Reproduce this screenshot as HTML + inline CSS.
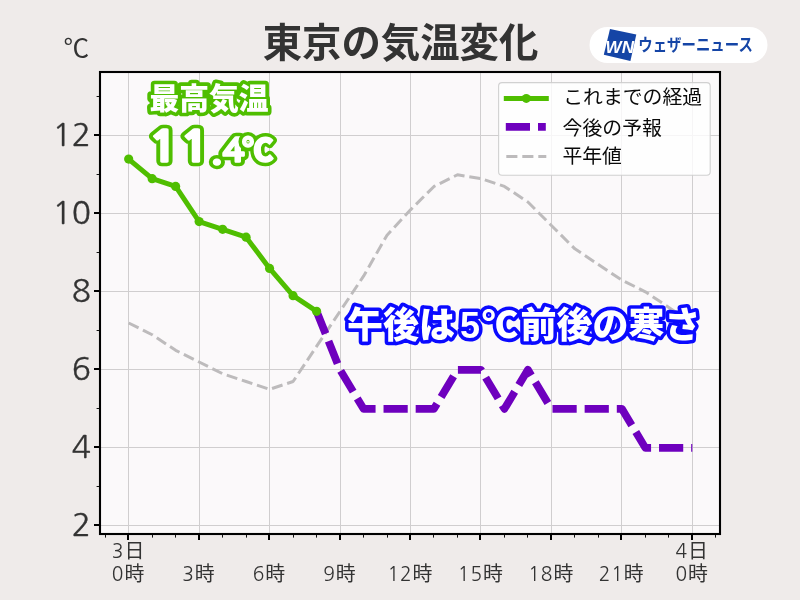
<!DOCTYPE html>
<html lang="ja">
<head>
<meta charset="utf-8">
<title>東京の気温変化</title>
<style>
html,body{margin:0;padding:0;background:#efebea;}
body{width:800px;height:600px;overflow:hidden;font-family:'Liberation Sans','Noto Sans CJK JP',sans-serif;}
svg{display:block;font-family:'Liberation Sans','Noto Sans CJK JP',sans-serif;}
.tick{fill:#333333;font-size:19.9px;}
.ytick{fill:#333333;font-size:30px;font-family:NanumGothic,'Liberation Sans',sans-serif;}
.d{font-family:NanumGothic,'Liberation Sans',sans-serif;font-size:19.2px;letter-spacing:0.9px;}
.leg{fill:#0a0a0a;font-size:19.85px;}
.ol{paint-order:stroke fill;stroke-linejoin:round;stroke-linecap:round;font-weight:900;fill:#fff;}
</style>
</head>
<body>
<svg width="800" height="600" viewBox="0 0 800 600">
<rect x="0" y="0" width="800" height="600" fill="#efebea"/>
<rect x="100.0" y="72.0" width="620.0" height="462.0" fill="#fbf9fa"/>

<g stroke="#d0cecf" stroke-width="1" fill="none" shape-rendering="crispEdges">
<line x1="128.5" y1="72.0" x2="128.5" y2="534.0"/>
<line x1="199.5" y1="72.0" x2="199.5" y2="534.0"/>
<line x1="269.5" y1="72.0" x2="269.5" y2="534.0"/>
<line x1="340.5" y1="72.0" x2="340.5" y2="534.0"/>
<line x1="410.5" y1="72.0" x2="410.5" y2="534.0"/>
<line x1="480.5" y1="72.0" x2="480.5" y2="534.0"/>
<line x1="551.5" y1="72.0" x2="551.5" y2="534.0"/>
<line x1="621.5" y1="72.0" x2="621.5" y2="534.0"/>
<line x1="692.5" y1="72.0" x2="692.5" y2="534.0"/>
<line x1="100.0" y1="525.5" x2="720.0" y2="525.5"/>
<line x1="100.0" y1="447.5" x2="720.0" y2="447.5"/>
<line x1="100.0" y1="369.5" x2="720.0" y2="369.5"/>
<line x1="100.0" y1="291.5" x2="720.0" y2="291.5"/>
<line x1="100.0" y1="213.5" x2="720.0" y2="213.5"/>
<line x1="100.0" y1="135.5" x2="720.0" y2="135.5"/>
</g>
<polyline points="128.68,323.01 152.17,334.72 175.65,350.32 199.13,362.03 222.62,373.74 246.11,381.54 269.59,389.34 293.07,381.54 316.56,346.42 340.05,311.30 363.53,276.19 387.01,235.21 410.50,209.85 433.99,186.44 457.47,174.73 480.95,178.64 504.44,186.44 527.92,202.05 551.41,225.46 574.89,248.87 598.38,264.48 621.87,280.09 645.35,291.79 668.84,307.40 692.32,323.01" fill="none" stroke="#bdbbbc" stroke-width="3" stroke-dasharray="11.05 4.85" stroke-linejoin="round"/>
<polyline points="316.56,311.30 340.05,369.83 363.53,408.85 387.01,408.85 410.50,408.85 433.99,408.85 457.47,369.83 480.95,369.83 504.44,408.85 527.92,369.83 551.41,408.85 574.89,408.85 598.38,408.85 621.87,408.85 645.35,447.88 668.84,447.88 692.32,447.88" fill="none" stroke="#6e00be" stroke-width="7.7" stroke-dasharray="24.2 7.95" stroke-linejoin="round"/>
<polyline points="128.68,159.12 152.17,178.64 175.65,186.44 199.13,221.56 222.62,229.36 246.11,237.17 269.59,268.38 293.07,295.70 316.56,311.30" fill="none" stroke="#4fbe00" stroke-width="5" stroke-linejoin="round" stroke-linecap="square"/>
<g fill="#4fbe00">
<circle cx="128.68" cy="159.12" r="4.6"/>
<circle cx="152.17" cy="178.64" r="4.6"/>
<circle cx="175.65" cy="186.44" r="4.6"/>
<circle cx="199.13" cy="221.56" r="4.6"/>
<circle cx="222.62" cy="229.36" r="4.6"/>
<circle cx="246.11" cy="237.17" r="4.6"/>
<circle cx="269.59" cy="268.38" r="4.6"/>
<circle cx="293.07" cy="295.70" r="4.6"/>
<circle cx="316.56" cy="311.30" r="4.6"/>
</g>
<rect x="100.0" y="72.0" width="620.0" height="462.0" fill="none" stroke="#000" stroke-width="2.1"/>
<g stroke="#000" fill="none" shape-rendering="crispEdges">
<line x1="105.5" y1="535.0" x2="105.5" y2="537.6" stroke-width="1" stroke="#111" shape-rendering="auto"/>
<line x1="128" y1="535.0" x2="128" y2="540.0" stroke-width="2"/>
<line x1="152.5" y1="535.0" x2="152.5" y2="537.6" stroke-width="1" stroke="#111" shape-rendering="auto"/>
<line x1="175.5" y1="535.0" x2="175.5" y2="537.6" stroke-width="1" stroke="#111" shape-rendering="auto"/>
<line x1="199" y1="535.0" x2="199" y2="540.0" stroke-width="2"/>
<line x1="222.5" y1="535.0" x2="222.5" y2="537.6" stroke-width="1" stroke="#111" shape-rendering="auto"/>
<line x1="246.5" y1="535.0" x2="246.5" y2="537.6" stroke-width="1" stroke="#111" shape-rendering="auto"/>
<line x1="269" y1="535.0" x2="269" y2="540.0" stroke-width="2"/>
<line x1="293.5" y1="535.0" x2="293.5" y2="537.6" stroke-width="1" stroke="#111" shape-rendering="auto"/>
<line x1="316.5" y1="535.0" x2="316.5" y2="537.6" stroke-width="1" stroke="#111" shape-rendering="auto"/>
<line x1="340" y1="535.0" x2="340" y2="540.0" stroke-width="2"/>
<line x1="363.5" y1="535.0" x2="363.5" y2="537.6" stroke-width="1" stroke="#111" shape-rendering="auto"/>
<line x1="387.5" y1="535.0" x2="387.5" y2="537.6" stroke-width="1" stroke="#111" shape-rendering="auto"/>
<line x1="410" y1="535.0" x2="410" y2="540.0" stroke-width="2"/>
<line x1="433.5" y1="535.0" x2="433.5" y2="537.6" stroke-width="1" stroke="#111" shape-rendering="auto"/>
<line x1="457.5" y1="535.0" x2="457.5" y2="537.6" stroke-width="1" stroke="#111" shape-rendering="auto"/>
<line x1="480" y1="535.0" x2="480" y2="540.0" stroke-width="2"/>
<line x1="504.5" y1="535.0" x2="504.5" y2="537.6" stroke-width="1" stroke="#111" shape-rendering="auto"/>
<line x1="527.5" y1="535.0" x2="527.5" y2="537.6" stroke-width="1" stroke="#111" shape-rendering="auto"/>
<line x1="551" y1="535.0" x2="551" y2="540.0" stroke-width="2"/>
<line x1="574.5" y1="535.0" x2="574.5" y2="537.6" stroke-width="1" stroke="#111" shape-rendering="auto"/>
<line x1="598.5" y1="535.0" x2="598.5" y2="537.6" stroke-width="1" stroke="#111" shape-rendering="auto"/>
<line x1="621" y1="535.0" x2="621" y2="540.0" stroke-width="2"/>
<line x1="645.5" y1="535.0" x2="645.5" y2="537.6" stroke-width="1" stroke="#111" shape-rendering="auto"/>
<line x1="668.5" y1="535.0" x2="668.5" y2="537.6" stroke-width="1" stroke="#111" shape-rendering="auto"/>
<line x1="692" y1="535.0" x2="692" y2="540.0" stroke-width="2"/>
<line x1="715.5" y1="535.0" x2="715.5" y2="537.6" stroke-width="1" stroke="#111" shape-rendering="auto"/>
<line x1="94.0" y1="525" x2="99.0" y2="525" stroke-width="2"/>
<line x1="96.6" y1="486.5" x2="99.0" y2="486.5" stroke-width="1" stroke="#111" shape-rendering="auto"/>
<line x1="94.0" y1="447" x2="99.0" y2="447" stroke-width="2"/>
<line x1="96.6" y1="408.5" x2="99.0" y2="408.5" stroke-width="1" stroke="#111" shape-rendering="auto"/>
<line x1="94.0" y1="369" x2="99.0" y2="369" stroke-width="2"/>
<line x1="96.6" y1="330.5" x2="99.0" y2="330.5" stroke-width="1" stroke="#111" shape-rendering="auto"/>
<line x1="94.0" y1="291" x2="99.0" y2="291" stroke-width="2"/>
<line x1="96.6" y1="252.5" x2="99.0" y2="252.5" stroke-width="1" stroke="#111" shape-rendering="auto"/>
<line x1="94.0" y1="213" x2="99.0" y2="213" stroke-width="2"/>
<line x1="96.6" y1="174.5" x2="99.0" y2="174.5" stroke-width="1" stroke="#111" shape-rendering="auto"/>
<line x1="94.0" y1="135" x2="99.0" y2="135" stroke-width="2"/>
<line x1="96.6" y1="96.5" x2="99.0" y2="96.5" stroke-width="1" stroke="#111" shape-rendering="auto"/>
</g>
<g class="tick" text-anchor="middle">
<text x="128.08" y="558.4"><tspan class="d">3</tspan>日</text>
<text x="691.72" y="558.4"><tspan class="d">4</tspan>日</text>
<text x="128.08" y="581.3"><tspan class="d">0</tspan>時</text>
<text x="198.53" y="581.3"><tspan class="d">3</tspan>時</text>
<text x="268.99" y="581.3"><tspan class="d">6</tspan>時</text>
<text x="339.44" y="581.3"><tspan class="d">9</tspan>時</text>
<text x="409.90" y="581.3"><tspan class="d">12</tspan>時</text>
<text x="480.35" y="581.3"><tspan class="d">15</tspan>時</text>
<text x="550.81" y="581.3"><tspan class="d">18</tspan>時</text>
<text x="621.26" y="581.3"><tspan class="d">21</tspan>時</text>
<text x="691.72" y="581.3"><tspan class="d">0</tspan>時</text>
</g>
<g class="ytick" text-anchor="end" stroke="#333333" stroke-width="0.35">
<text x="91" y="536.42" textLength="19.2" lengthAdjust="spacingAndGlyphs">2</text>
<text x="91" y="458.38" textLength="19.2" lengthAdjust="spacingAndGlyphs">4</text>
<text x="91" y="380.33" textLength="19.2" lengthAdjust="spacingAndGlyphs">6</text>
<text x="91" y="302.29" textLength="19.2" lengthAdjust="spacingAndGlyphs">8</text>
<text x="91" y="224.25" textLength="38.4" lengthAdjust="spacingAndGlyphs">10</text>
<text x="91" y="146.21" textLength="38.4" lengthAdjust="spacingAndGlyphs">12</text>
</g>
<text x="63.4" y="57.2" font-size="24.5px" fill="#333333" font-weight="400" textLength="25.6" lengthAdjust="spacingAndGlyphs">℃</text>
<text x="400.5" y="57" font-size="39.4px" font-weight="700" fill="#333" text-anchor="middle">東京の気温変化</text>
<rect x="589.5" y="27" width="178" height="36" rx="18" ry="18" fill="#fff"/>
<polygon points="610,28.9 636.3,34.5 630.4,61 603.8,54.8" fill="#1545a6"/>
<text x="605.6" y="52.7" font-size="16.6px" font-weight="700" font-style="italic" fill="#fff" textLength="28.4" lengthAdjust="spacingAndGlyphs">WN</text>
<text x="638.3" y="51.2" font-size="17px" font-weight="700" fill="#1545a6" textLength="114.5" lengthAdjust="spacingAndGlyphs">ウェザーニュース</text>
<rect x="498.6" y="82.6" width="211.6" height="92.6" rx="3.5" ry="3.5" fill="#fff" fill-opacity="0.8" stroke="#cccccc" stroke-opacity="0.9" stroke-width="1.1"/>
<line x1="506.3" y1="98.4" x2="546.3" y2="98.4" stroke="#4fbe00" stroke-width="5" stroke-linecap="square"/>
<circle cx="526.3" cy="98.4" r="4.5" fill="#4fbe00"/>
<line x1="505.8" y1="126.9" x2="545.8" y2="126.9" stroke="#6e00be" stroke-width="7.8" stroke-dasharray="24.2 8"/>
<line x1="506.3" y1="156.5" x2="546.3" y2="156.5" stroke="#bdbbbc" stroke-width="3" stroke-dasharray="11.1 4.9"/>
<g class="leg">
<text x="563.2" y="103.8">これまでの経過</text>
<text x="562.6" y="134.8">今後の予報</text>
<text x="562.4" y="162.6">平年値</text>
</g>
<text class="ol" x="149.4" y="109.4" font-size="29.8px" stroke="#4fbe00" stroke-width="7.3">最高気温</text>
<text aria-hidden="true" transform="translate(148.6,161.5) scale(1.13,1)" font-family="NanumGothic,'Liberation Sans',sans-serif" font-weight="800" fill="#4fbe00" stroke="#4fbe00" stroke-width="8.4" stroke-linejoin="round"><tspan font-size="43.6px" letter-spacing="1.4">11</tspan><tspan font-size="33px" letter-spacing="0" dx="-0.5">.4</tspan></text>
<text transform="translate(148.6,161.5) scale(1.13,1)" font-family="NanumGothic,'Liberation Sans',sans-serif" font-weight="800" fill="#fff" stroke="#fff" stroke-width="1.4" stroke-linejoin="miter"><tspan font-size="43.6px" letter-spacing="1.4">11</tspan><tspan font-size="33px" letter-spacing="0" dx="-0.5">.4</tspan></text>
<text aria-hidden="true" x="242.3" y="160.8" font-size="31px" font-weight="900" fill="#4fbe00" stroke="#4fbe00" stroke-width="8.6" stroke-linejoin="round" stroke-linecap="round">℃</text>
<text x="242.3" y="160.8" font-size="31px" font-weight="900" fill="#fff" stroke="#fff" stroke-width="1.6" stroke-linejoin="round">℃</text>
<text class="ol" x="347" y="338" font-size="36px" stroke="#0a0aff" stroke-width="7.2">午後は<tspan x="460.1">5</tspan><tspan x="481.9">℃</tspan><tspan x="520.5">前後の寒さ</tspan></text>
</svg>
</body>
</html>
